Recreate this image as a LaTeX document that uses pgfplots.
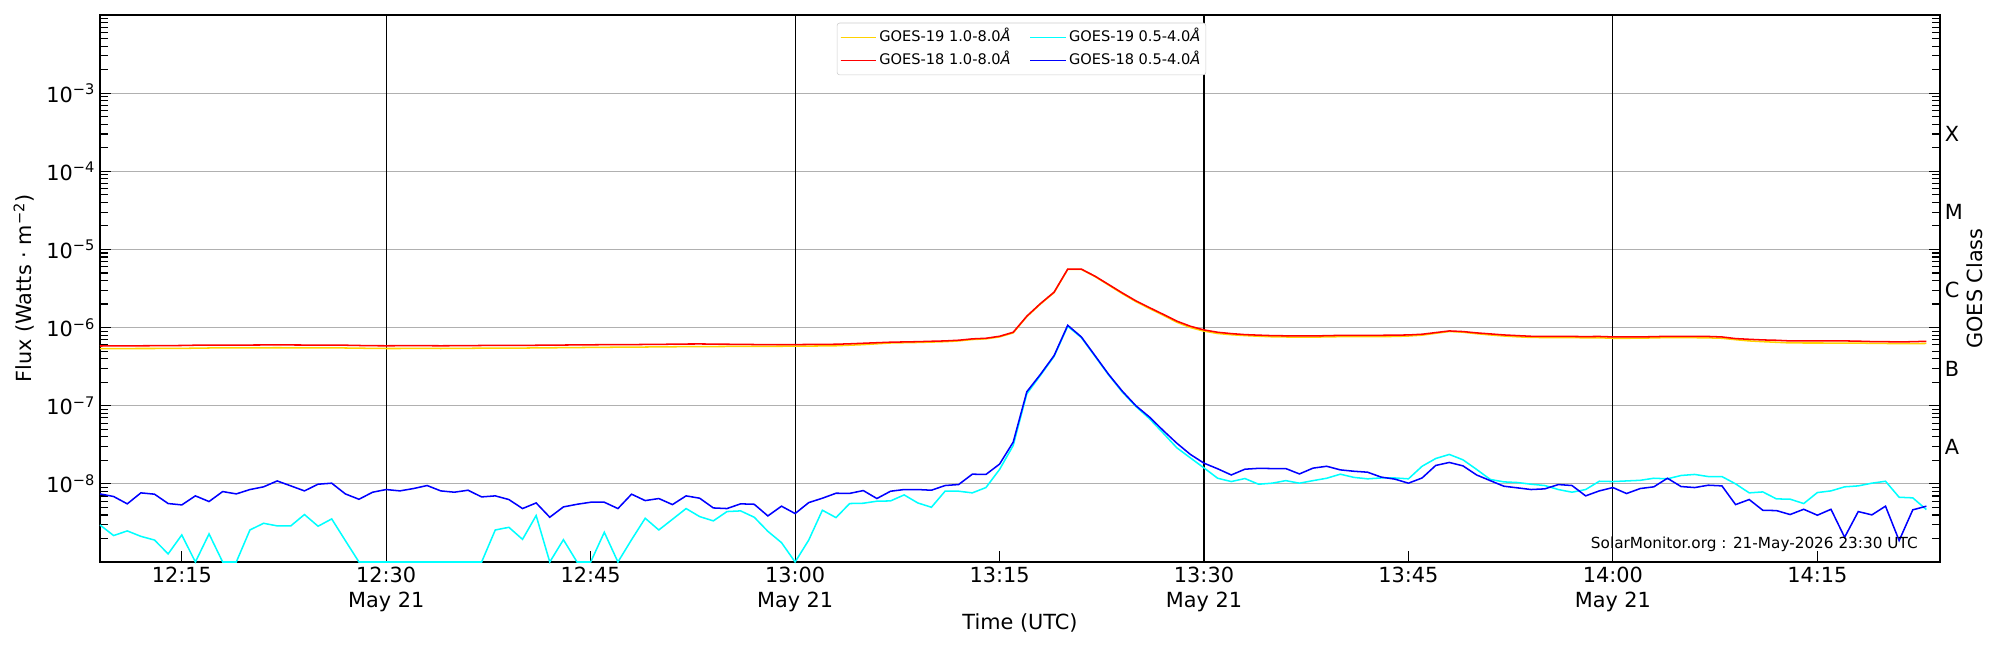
\documentclass[border=0pt]{standalone}
\usepackage{fontspec}
\setmainfont{DejaVu Sans}
\usepackage{pgfplots}
\usepackage{pgfplotstable}
\pgfplotsset{compat=1.18}
\definecolor{goldy}{RGB}{255,210,0}
\definecolor{cyanx}{RGB}{0,255,255}
\definecolor{bluex}{RGB}{0,0,255}
\definecolor{redx}{RGB}{255,0,0}
\definecolor{gridgray}{RGB}{176,176,176}
\newcommand{\tp}[1]{10\textsuperscript{−#1}}
\newcommand{\fs}{\fontsize{15bp}{18bp}\selectfont}
\pgfplotstableread{
t a b c d
9 5.37e-7 5.81e-7 2.98e-9 7.44e-9
10 5.38e-7 5.83e-7 2.18e-9 6.89e-9
11 5.39e-7 5.84e-7 2.50e-9 5.55e-9
12 5.40e-7 5.85e-7 2.13e-9 7.67e-9
13 5.40e-7 5.86e-7 1.91e-9 7.38e-9
14 5.41e-7 5.88e-7 1.27e-9 5.60e-9
15 5.42e-7 5.90e-7 2.22e-9 5.38e-9
16 5.45e-7 5.95e-7 1.00e-9 7.02e-9
17 5.48e-7 5.98e-7 2.29e-9 5.94e-9
18 5.50e-7 5.98e-7 1.00e-9 7.97e-9
19 5.50e-7 5.97e-7 1.00e-9 7.44e-9
20 5.50e-7 5.98e-7 2.57e-9 8.46e-9
21 5.51e-7 5.99e-7 3.13e-9 9.16e-9
22 5.52e-7 6.00e-7 2.90e-9 1.09e-8
23 5.51e-7 5.99e-7 2.90e-9 9.42e-9
24 5.50e-7 5.98e-7 4.05e-9 8.13e-9
25 5.50e-7 5.97e-7 2.87e-9 9.90e-9
26 5.49e-7 5.96e-7 3.56e-9 1.02e-8
27 5.48e-7 5.95e-7 1.88e-9 7.44e-9
28 5.45e-7 5.90e-7 1.00e-9 6.35e-9
29 5.42e-7 5.86e-7 1.00e-9 7.82e-9
30 5.40e-7 5.85e-7 1.00e-9 8.46e-9
31 5.40e-7 5.86e-7 1.00e-9 8.13e-9
32 5.41e-7 5.87e-7 1.00e-9 8.71e-9
33 5.41e-7 5.86e-7 1.00e-9 9.52e-9
34 5.40e-7 5.85e-7 1.00e-9 8.13e-9
35 5.41e-7 5.86e-7 1.00e-9 7.82e-9
36 5.43e-7 5.88e-7 1.00e-9 8.29e-9
37 5.45e-7 5.90e-7 1.00e-9 6.81e-9
38 5.45e-7 5.90e-7 2.57e-9 7.02e-9
39 5.46e-7 5.91e-7 2.78e-9 6.30e-9
40 5.47e-7 5.92e-7 1.95e-9 4.83e-9
41 5.49e-7 5.94e-7 3.93e-9 5.70e-9
42 5.51e-7 5.96e-7 1.00e-9 3.74e-9
43 5.53e-7 5.98e-7 1.93e-9 5.07e-9
44 5.55e-7 6.00e-7 1.00e-9 5.48e-9
45 5.57e-7 6.02e-7 1.00e-9 5.82e-9
46 5.59e-7 6.04e-7 2.40e-9 5.82e-9
47 5.61e-7 6.05e-7 1.00e-9 4.83e-9
48 5.62e-7 6.06e-7 1.93e-9 7.38e-9
49 5.64e-7 6.08e-7 3.63e-9 6.11e-9
50 5.66e-7 6.10e-7 2.57e-9 6.49e-9
51 5.68e-7 6.13e-7 3.52e-9 5.43e-9
52 5.70e-7 6.16e-7 4.83e-9 7.02e-9
53 5.71e-7 6.17e-7 3.81e-9 6.55e-9
54 5.72e-7 6.15e-7 3.36e-9 4.92e-9
55 5.73e-7 6.12e-7 4.42e-9 4.83e-9
56 5.74e-7 6.10e-7 4.51e-9 5.55e-9
57 5.75e-7 6.07e-7 3.74e-9 5.48e-9
58 5.76e-7 6.05e-7 2.47e-9 3.89e-9
59 5.77e-7 6.05e-7 1.77e-9 5.18e-9
60 5.78e-7 6.06e-7 1.00e-9 4.17e-9
61 5.80e-7 6.08e-7 1.91e-9 5.76e-9
62 5.82e-7 6.10e-7 4.60e-9 6.55e-9
63 5.85e-7 6.12e-7 3.70e-9 7.59e-9
64 5.95e-7 6.20e-7 5.60e-9 7.55e-9
65 6.05e-7 6.30e-7 5.65e-9 8.21e-9
66 6.20e-7 6.40e-7 6.00e-9 6.49e-9
67 6.35e-7 6.50e-7 6.05e-9 8.05e-9
68 6.40e-7 6.55e-7 7.22e-9 8.46e-9
69 6.45e-7 6.60e-7 5.70e-9 8.46e-9
70 6.52e-7 6.68e-7 5.02e-9 8.29e-9
71 6.60e-7 6.75e-7 8.05e-9 9.52e-9
72 6.75e-7 6.89e-7 8.05e-9 9.81e-9
73 7.03e-7 7.17e-7 7.67e-9 1.33e-8
74 7.17e-7 7.30e-7 8.97e-9 1.32e-8
75 7.60e-7 7.74e-7 1.53e-8 1.79e-8
76 8.55e-7 8.71e-7 3.10e-8 3.42e-8
77 1.38e-6 1.40e-6 1.42e-7 1.51e-7
78 2.00e-6 2.03e-6 2.45e-7 2.52e-7
79 2.80e-6 2.84e-6 4.28e-7 4.38e-7
80 5.55e-6 5.60e-6 1.04e-6 1.07e-6
81 5.55e-6 5.60e-6 7.45e-7 7.59e-7
82 4.50e-6 4.55e-6 4.30e-7 4.38e-7
83 3.50e-6 3.56e-6 2.48e-7 2.52e-7
84 2.72e-6 2.78e-6 1.50e-7 1.54e-7
85 2.15e-6 2.20e-6 9.80e-8 1.00e-7
86 1.75e-6 1.80e-6 6.81e-8 7.16e-8
87 1.44e-6 1.48e-6 4.47e-8 4.83e-8
88 1.17e-6 1.21e-6 2.90e-8 3.32e-8
89 1.00e-6 1.04e-6 2.15e-8 2.38e-8
90 9.00e-7 9.33e-7 1.60e-8 1.84e-8
91 8.40e-7 8.71e-7 1.18e-8 1.56e-8
92 8.10e-7 8.37e-7 1.07e-8 1.30e-8
93 7.90e-7 8.13e-7 1.17e-8 1.54e-8
94 7.75e-7 8.00e-7 9.90e-9 1.58e-8
95 7.62e-7 7.89e-7 1.02e-8 1.57e-8
96 7.58e-7 7.85e-7 1.10e-8 1.57e-8
97 7.55e-7 7.81e-7 1.02e-8 1.34e-8
98 7.55e-7 7.81e-7 1.10e-8 1.59e-8
99 7.60e-7 7.88e-7 1.18e-8 1.68e-8
100 7.65e-7 7.95e-7 1.33e-8 1.51e-8
101 7.65e-7 7.95e-7 1.21e-8 1.45e-8
102 7.65e-7 7.95e-7 1.16e-8 1.41e-8
103 7.67e-7 7.97e-7 1.19e-8 1.22e-8
104 7.70e-7 8.00e-7 1.19e-8 1.15e-8
105 7.80e-7 8.05e-7 1.16e-8 1.02e-8
106 8.00e-7 8.22e-7 1.68e-8 1.19e-8
107 8.45e-7 8.63e-7 2.11e-8 1.72e-8
108 8.90e-7 9.06e-7 2.38e-8 1.88e-8
109 8.72e-7 8.89e-7 2.03e-8 1.70e-8
110 8.35e-7 8.55e-7 1.53e-8 1.30e-8
111 8.05e-7 8.30e-7 1.14e-8 1.10e-8
112 7.80e-7 8.05e-7 1.06e-8 9.33e-9
113 7.62e-7 7.89e-7 1.04e-8 8.89e-9
114 7.48e-7 7.74e-7 9.90e-9 8.46e-9
115 7.46e-7 7.74e-7 9.52e-9 8.63e-9
116 7.45e-7 7.74e-7 8.46e-9 9.80e-9
117 7.43e-7 7.70e-7 7.82e-9 9.52e-9
118 7.40e-7 7.67e-7 8.46e-9 7.02e-9
119 7.40e-7 7.70e-7 1.08e-8 8.13e-9
120 7.30e-7 7.59e-7 1.07e-8 8.97e-9
121 7.30e-7 7.59e-7 1.09e-8 7.52e-9
122 7.32e-7 7.60e-7 1.11e-8 8.71e-9
123 7.38e-7 7.65e-7 1.18e-8 9.16e-9
124 7.45e-7 7.74e-7 1.16e-8 1.18e-8
125 7.43e-7 7.74e-7 1.28e-8 9.24e-9
126 7.42e-7 7.74e-7 1.32e-8 8.97e-9
127 7.38e-7 7.70e-7 1.24e-8 9.61e-9
128 7.30e-7 7.59e-7 1.24e-8 9.42e-9
129 7.00e-7 7.23e-7 1.00e-8 5.43e-9
130 6.75e-7 7.08e-7 7.67e-9 6.30e-9
131 6.60e-7 6.95e-7 7.89e-9 4.59e-9
132 6.48e-7 6.88e-7 6.42e-9 4.55e-9
133 6.36e-7 6.75e-7 6.37e-9 4.05e-9
134 6.35e-7 6.75e-7 5.60e-9 4.73e-9
135 6.35e-7 6.75e-7 7.74e-9 3.97e-9
136 6.34e-7 6.75e-7 8.13e-9 4.73e-9
137 6.33e-7 6.75e-7 9.16e-9 2.07e-9
138 6.32e-7 6.70e-7 9.42e-9 4.42e-9
139 6.29e-7 6.62e-7 1.02e-8 4.01e-9
140 6.26e-7 6.60e-7 1.08e-8 5.18e-9
141 6.24e-7 6.55e-7 6.74e-9 1.88e-9
142 6.24e-7 6.60e-7 6.62e-9 4.65e-9
143 6.26e-7 6.68e-7 4.69e-9 5.18e-9
}\goesdata
\begin{document}
\begin{tikzpicture}
\path[use as bounding box] (0,0) rectangle (1440bp,468bp);
\begin{axis}[
  at={(72bp,63.36bp)}, anchor=south west,
  width=1324.8bp, height=393.84bp, scale only axis,
  xmin=9, xmax=144,
  ymode=log, ymin=1e-9, ymax=1e-2,
  clip=false,
  axis line style={black, line width=1bp},
  tick align=inside,
  xtick pos=left, ytick pos=both,
  tick style={black, line width=0.8bp},
  major tick length=8bp, minor tick length=5.5bp,
  xtick={15,45,75,105,135},
  xticklabels={12:15,12:45,13:15,13:45,14:15},
  extra x ticks={30,60,90,120},
  extra x tick labels={{12:30\\May 21},{13:00\\May 21},{13:30\\May 21},{14:00\\May 21}},
  extra x tick style={grid=major, major grid style={black, line width=0.8bp}},
  x tick label style={align=center, font=\fs},
  y tick label style={font=\fs},
  ytick={1e-8,1e-7,1e-6,1e-5,1e-4,1e-3},
  yticklabels={\tp{8},\tp{7},\tp{6},\tp{5},\tp{4},\tp{3}},
  minor ytick={2e-9,3e-9,4e-9,5e-9,6e-9,7e-9,8e-9,9e-9,
               2e-8,3e-8,4e-8,5e-8,6e-8,7e-8,8e-8,9e-8,
               2e-7,3e-7,4e-7,5e-7,6e-7,7e-7,8e-7,9e-7,
               2e-6,3e-6,4e-6,5e-6,6e-6,7e-6,8e-6,9e-6,
               2e-5,3e-5,4e-5,5e-5,6e-5,7e-5,8e-5,9e-5,
               2e-4,3e-4,4e-4,5e-4,6e-4,7e-4,8e-4,9e-4,
               2e-3,3e-3,4e-3,5e-3,6e-3,7e-3,8e-3,9e-3},
  ymajorgrids,
  major grid style={gridgray, line width=0.8bp},
  xlabel={Time (UTC)},
  xlabel style={at={(axis description cs:0.5,-0.112)}, anchor=center, font=\fs},
  ylabel={Flux (Watts · m\textsuperscript{−2})},
  ylabel style={at={(axis description cs:-0.0413,0.5)}, anchor=center, font=\fs},
  legend columns=2,
  legend cell align=left,
  legend image code/.code={\draw[#1] (0bp,0bp) -- (21bp,0bp); \path (0bp,0bp) -- (25.5bp,0bp);},
  legend style={at={(rel axis cs:0.4004,0.9859)}, anchor=north west,
    draw=black!20, rounded corners=2bp, fill=white,
    font=\fontsize{10.5bp}{12.6bp}\selectfont,
    inner xsep=2bp, inner ysep=2bp,
    nodes={text height=7.8bp, text depth=2.3bp, inner ysep=3.3bp},
    /tikz/column 2/.style={column sep=11.5bp}},
]
\addplot[goldy, line width=1.1bp, forget plot] table[x=t,y=a]{\goesdata};
\addplot[redx, line width=1.1bp, forget plot] table[x=t,y=b]{\goesdata};
\addplot[cyanx, line width=1.1bp, forget plot] table[x=t,y=c]{\goesdata};
\addplot[bluex, line width=1.1bp, forget plot] table[x=t,y=d]{\goesdata};
\addlegendimage{goldy, line width=1bp}
\addlegendentry{GOES-19 1.0-8.0\textit{Å}}
\addlegendimage{cyanx, line width=1bp}
\addlegendentry{GOES-19 0.5-4.0\textit{Å}}
\addlegendimage{redx, line width=1bp}
\addlegendentry{GOES-18 1.0-8.0\textit{Å}}
\addlegendimage{bluex, line width=1bp}
\addlegendentry{GOES-18 0.5-4.0\textit{Å}}
\node[anchor=west, font=\fs] at (axis cs:144,3e-4) {X};
\node[anchor=west, font=\fs] at (axis cs:144,3e-5) {M};
\node[anchor=west, font=\fs] at (axis cs:144,3e-6) {C};
\node[anchor=west, font=\fs] at (axis cs:144,3e-7) {B};
\node[anchor=west, font=\fs] at (axis cs:144,3e-8) {A};
\node[rotate=90, anchor=center, font=\fs] at (rel axis cs:1.019,0.5) {GOES Class};
\node[anchor=base east, inner sep=0pt, font=\fontsize{11bp}{13bp}\selectfont] at (rel axis cs:0.988,0.0238) {SolarMonitor.org : 21-May-2026 23:30 UTC};
\end{axis}
\end{tikzpicture}
\end{document}
